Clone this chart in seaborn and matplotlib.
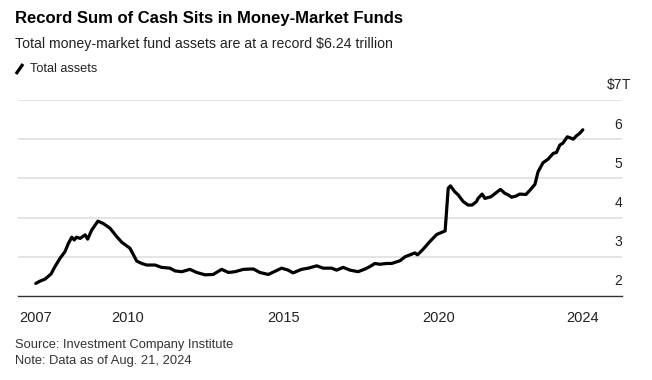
import matplotlib.pyplot as plt
from matplotlib.lines import Line2D
import seaborn as sns
import pandas as pd

# values (decimal year, $ trillions)
years = [2007.04, 2007.18, 2007.34, 2007.53, 2007.66, 2007.82, 2007.98, 2008.09, 2008.20, 2008.28,
         2008.35, 2008.47, 2008.63, 2008.71, 2008.84, 2009.04, 2009.21, 2009.43, 2009.65, 2009.81,
         2010.07, 2010.29, 2010.45, 2010.61, 2010.88, 2011.09, 2011.36, 2011.52, 2011.74, 2012.00,
         2012.22, 2012.49, 2012.75, 2013.02, 2013.24, 2013.45, 2013.72, 2014.04, 2014.25, 2014.52,
         2014.63, 2014.95, 2015.16, 2015.32, 2015.59, 2015.81, 2016.08, 2016.29, 2016.56, 2016.72,
         2016.93, 2017.15, 2017.41, 2017.61, 2017.79, 2017.95, 2018.11, 2018.33, 2018.49, 2018.76,
         2018.92, 2019.08, 2019.24, 2019.32, 2019.50, 2019.72, 2019.94, 2020.15, 2020.21, 2020.31,
         2020.38, 2020.52, 2020.63, 2020.79, 2020.95, 2021.08, 2021.22, 2021.27, 2021.40, 2021.49,
         2021.68, 2021.86, 2021.99, 2022.13, 2022.24, 2022.35, 2022.49, 2022.61, 2022.81, 2022.94,
         2023.10, 2023.20, 2023.36, 2023.52, 2023.69, 2023.79, 2023.90, 2024.00, 2024.14, 2024.22,
         2024.33, 2024.44, 2024.54, 2024.64]
total_assets = [2.32, 2.38, 2.43, 2.56, 2.75, 2.96, 3.13, 3.34, 3.50, 3.43,
                3.50, 3.47, 3.56, 3.45, 3.68, 3.91, 3.85, 3.73, 3.51, 3.37,
                3.22, 2.89, 2.83, 2.79, 2.79, 2.73, 2.71, 2.64, 2.62, 2.68,
                2.60, 2.54, 2.55, 2.68, 2.60, 2.62, 2.68, 2.69, 2.60, 2.55,
                2.59, 2.71, 2.66, 2.59, 2.68, 2.71, 2.77, 2.71, 2.71, 2.66,
                2.73, 2.66, 2.62, 2.68, 2.75, 2.83, 2.81, 2.83, 2.83, 2.90,
                3.00, 3.05, 3.10, 3.05, 3.19, 3.39, 3.57, 3.64, 3.66, 4.75,
                4.81, 4.66, 4.58, 4.41, 4.32, 4.32, 4.41, 4.49, 4.60, 4.49,
                4.53, 4.64, 4.72, 4.62, 4.58, 4.52, 4.55, 4.60, 4.59, 4.70,
                4.85, 5.17, 5.40, 5.49, 5.64, 5.66, 5.85, 5.90, 6.06, 6.04,
                6.00, 6.09, 6.15, 6.24]

x_tick_labels = ["2007", "2010", "2015", "2020", "2024"]
y_ticks = [2, 3, 4, 5, 6, 7]
y_tick_labels = ["2", "3", "4", "5", "6", "$7"]

df = pd.DataFrame({"year": years, "assets": total_assets})

sns.set_style("white")
plt.rcParams["font.family"] = ["Liberation Sans", "DejaVu Sans"]

fig = plt.figure(figsize=(6.52, 3.80), dpi=100)
ax = fig.add_axes([18 / 652, 1 - 296 / 380, 604 / 652, 196 / 380])

# horizontal gridlines
for v in y_ticks[1:]:
    ax.axhline(v, color="#dcdcdc", lw=1.1, zorder=0)

sns.lineplot(data=df, x="year", y="assets", color="black", lw=2.3, ax=ax, zorder=3)

ax.set_xlim(2006.47, 2025.9)
ax.set_ylim(2, 7)

# x ticks: first and last sit at the data ends
ax.set_xticks([years[0], 2010, 2015, 2020, years[-1]])
ax.set_xticklabels(x_tick_labels, fontsize=10.5, color="#222222")
ax.tick_params(axis="x", length=4.5, width=1, color="#333333", pad=6.5, direction="out")
ax.set_yticks([])
ax.set_xlabel("")
ax.set_ylabel("")

for side in ["top", "right", "left"]:
    ax.spines[side].set_visible(False)
ax.spines["bottom"].set_color("#333333")
ax.spines["bottom"].set_linewidth(1)

# y labels sit above their gridlines, right aligned
for v, lab in zip(y_ticks, y_tick_labels):
    ax.annotate(lab, xy=(1.0, v), xycoords=ax.get_yaxis_transform(),
                xytext=(0, 5.5), textcoords="offset points",
                ha="right", va="bottom", fontsize=10, color="#222222")
ax.annotate("T", xy=(1.0, y_ticks[-1]), xycoords=ax.get_yaxis_transform(),
            xytext=(0, 5.5), textcoords="offset points",
            ha="left", va="bottom", fontsize=10, color="#222222")

# titles
fig.text(15 / 652, 1 - 18 / 380, "Record Sum of Cash Sits in Money-Market Funds",
         fontsize=12, fontweight="bold", va="center", ha="left", color="black")
fig.text(15 / 652, 1 - 44 / 380, "Total money-market fund assets are at a record $6.24 trillion",
         fontsize=10.2, va="center", ha="left", color="#222222")

# legend
fig.add_artist(Line2D([16 / 652, 23 / 652], [1 - 74 / 380, 1 - 64 / 380],
                      color="black", lw=2.3, solid_capstyle="butt"))
fig.text(30 / 652, 1 - 69 / 380, "Total assets", fontsize=9.2, va="center", ha="left", color="#222222")

# footer
fig.text(15 / 652, 1 - 345 / 380, "Source: Investment Company Institute",
         fontsize=9.3, va="center", ha="left", color="#333333")
fig.text(15 / 652, 1 - 361 / 380, "Note: Data as of Aug. 21, 2024",
         fontsize=9.3, va="center", ha="left", color="#333333")

fig.savefig("out.png", dpi=100, facecolor="white")
